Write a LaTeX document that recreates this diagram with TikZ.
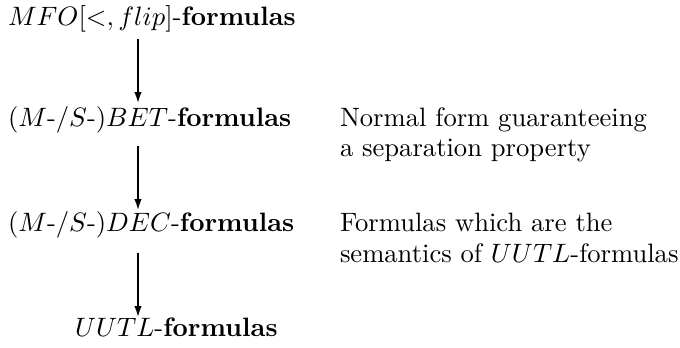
\documentclass[tikz,border=0pt]{standalone}
\usetikzlibrary{arrows.meta}
\begin{document}
\begin{tikzpicture}[x=0.376pt,y=-0.376pt,
  lbl/.style={inner sep=0pt, outer sep=0pt, anchor=base west, font=\normalsize},
  note/.style={inner sep=0pt, outer sep=0pt, anchor=base west, align=left, font=\normalsize},
  arr/.style={line width=1pt, -{Latex[length=4.5pt,width=2.8pt]}}]
\useasboundingbox (0,0) rectangle (680,348);
\node[lbl] (r1) at (8,26) {$MFO[<,flip]$-\textbf{formulas}};
\node[lbl] (r2) at (8,127) {$(M$-$/S$-$)BET$-\textbf{formulas}};
\node[lbl] (r3) at (8,232) {$(M$-$/S$-$)DEC$-\textbf{formulas}};
\node[lbl] (r4) at (75,337) {$UUTL$-\textbf{formulas}};
\node[note] (n2a) at (340,127) {Normal form guaranteeing};
\node[note] (n2b) at (340,157) {a separation property};
\node[note] (n3a) at (340,232) {Formulas which are the};
\node[note] (n3b) at (340,263) {semantics of $UUTL$-formulas};
\coordinate (s1) at (138,39);  \coordinate (e1) at (138,104);
\coordinate (s2) at (138,146); \coordinate (e2) at (138,211);
\coordinate (s3) at (138,253); \coordinate (e3) at (138,318);
\draw[arr] (s1) -- (e1);
\draw[arr] (s2) -- (e2);
\draw[arr] (s3) -- (e3);
\end{tikzpicture}
\end{document}
